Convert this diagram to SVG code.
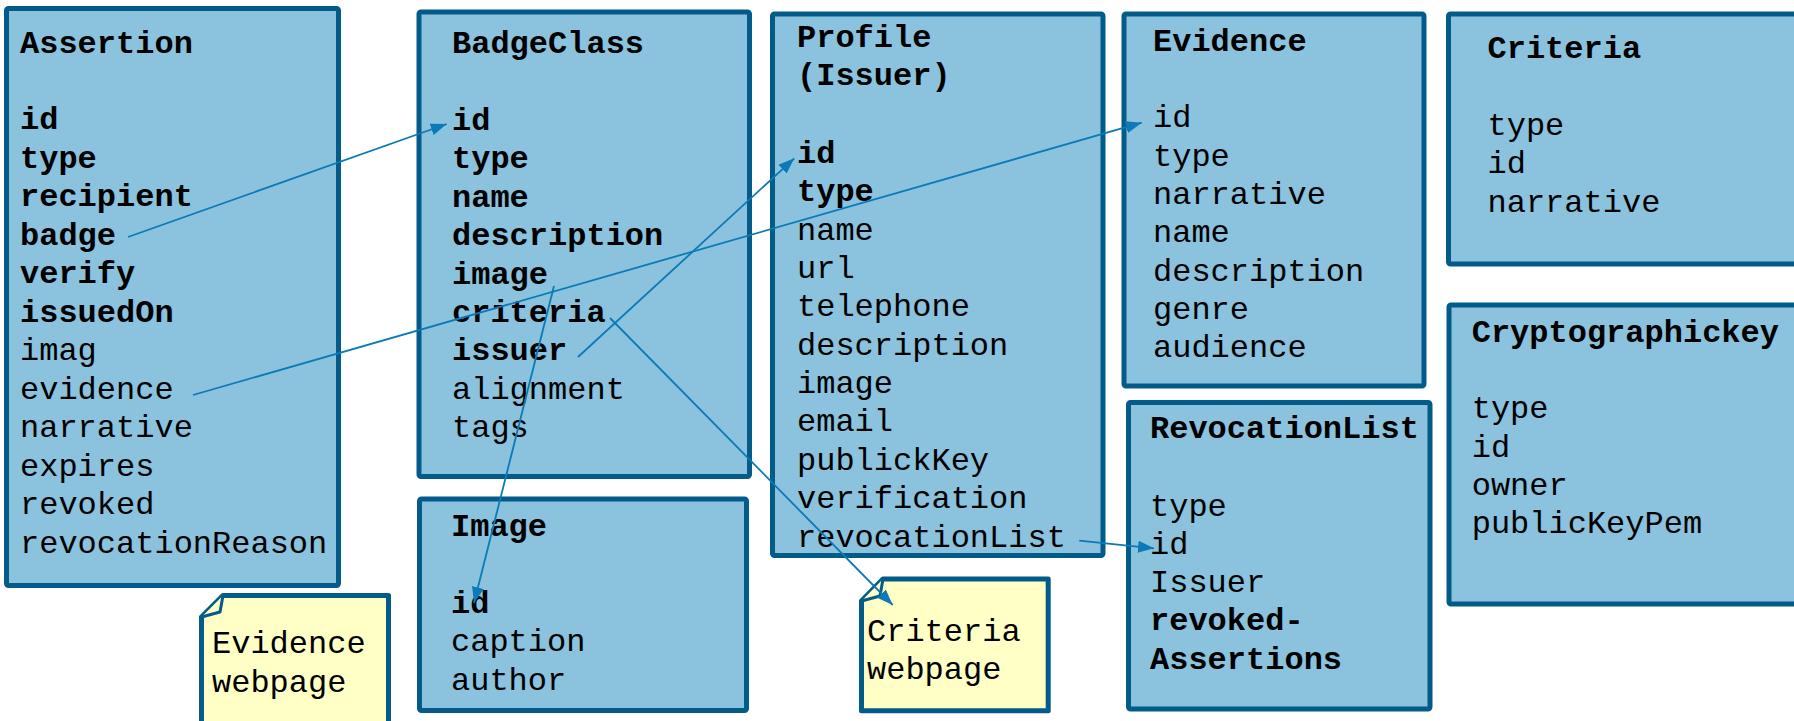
<svg xmlns="http://www.w3.org/2000/svg" width="1794" height="721" viewBox="0 0 1794 721">
<defs>
<style>
.box{fill:#8BC2DD;stroke:#035B89;stroke-width:5}
.note{fill:#FFFFC6;stroke:#035B89;stroke-width:5;stroke-linejoin:round}
.fold{fill:#FFFFC6;stroke:#035B89;stroke-width:3;stroke-linejoin:round}
text{font-family:"Liberation Mono","Courier New",monospace;font-size:32px;fill:#000}
.b{font-weight:bold}
.conn{stroke:#0B7AB7;stroke-width:1.8;fill:none}
</style>
<marker id="arr" markerUnits="userSpaceOnUse" markerWidth="16" markerHeight="12" refX="16" refY="6" orient="auto">
<path d="M0,0 L16,6 L0,12 Z" fill="#0B7AB7"/>
</marker>
</defs>
<rect width="1794" height="721" fill="#FFFFFF"/>

<g id="assertion">
<rect class="box" x="6.5" y="8.5" width="332" height="577" rx="2"/>
<text x="20" y="53" class="b">Assertion</text>
<text x="20" y="129" class="b">id</text>
<text x="20" y="167.5" class="b">type</text>
<text x="20" y="206" class="b">recipient</text>
<text x="20" y="244.5" class="b">badge</text>
<text x="20" y="283" class="b">verify</text>
<text x="20" y="321.5" class="b">issuedOn</text>
<text x="20" y="360">imag</text>
<text x="20" y="398.5">evidence</text>
<text x="20" y="437">narrative</text>
<text x="20" y="475.5">expires</text>
<text x="20" y="514">revoked</text>
<text x="20" y="552.5">revocationReason</text>
</g>

<g id="badgeclass">
<rect class="box" x="419" y="12" width="330.5" height="464.5" rx="2"/>
<text x="452" y="53.3" class="b">BadgeClass</text>
<text x="452" y="130" class="b">id</text>
<text x="452" y="168.4" class="b">type</text>
<text x="452" y="206.8" class="b">name</text>
<text x="452" y="245.2" class="b">description</text>
<text x="452" y="283.6" class="b">image</text>
<text x="452" y="322" class="b">criteria</text>
<text x="452" y="360.4" class="b">issuer</text>
<text x="452" y="398.8">alignment</text>
<text x="452" y="437.2">tags</text>
</g>

<g id="image">
<rect class="box" x="419.5" y="499" width="327" height="211.5" rx="2"/>
<text x="451" y="536" class="b">Image</text>
<text x="451" y="612.7" class="b">id</text>
<text x="451" y="651">caption</text>
<text x="451" y="689.5">author</text>
</g>

<g id="profile">
<rect class="box" x="772.5" y="14" width="330.5" height="541.5" rx="2"/>
<text x="797" y="46.7" class="b">Profile</text>
<text x="797" y="85.1" class="b">(Issuer)</text>
<text x="797" y="162.7" class="b">id</text>
<text x="797" y="201.1" class="b">type</text>
<text x="797" y="239.5">name</text>
<text x="797" y="277.9">url</text>
<text x="797" y="316.2">telephone</text>
<text x="797" y="354.6">description</text>
<text x="797" y="393">image</text>
<text x="797" y="431.4">email</text>
<text x="797" y="469.8">publickKey</text>
<text x="797" y="508.2">verification</text>
<text x="797" y="546.5">revocationList</text>
</g>

<g id="evidence">
<rect class="box" x="1124" y="14" width="300" height="372" rx="2"/>
<text x="1153" y="50.7" class="b">Evidence</text>
<text x="1153" y="127.3">id</text>
<text x="1153" y="165.6">type</text>
<text x="1153" y="204">narrative</text>
<text x="1153" y="242.3">name</text>
<text x="1153" y="280.6">description</text>
<text x="1153" y="319">genre</text>
<text x="1153" y="357.3">audience</text>
</g>

<g id="criteria">
<rect class="box" x="1448.5" y="14" width="352" height="250" rx="2"/>
<text x="1487.5" y="58.3" class="b">Criteria</text>
<text x="1487.5" y="135">type</text>
<text x="1487.5" y="173.3">id</text>
<text x="1487.5" y="211.7">narrative</text>
</g>

<g id="cryptographickey">
<rect class="box" x="1449" y="305" width="352" height="299" rx="2"/>
<text x="1471.7" y="341.7" class="b">Cryptographickey</text>
<text x="1471.7" y="418.3">type</text>
<text x="1471.7" y="456.7">id</text>
<text x="1471.7" y="495">owner</text>
<text x="1471.7" y="533.3">publicKeyPem</text>
</g>

<g id="revocationlist">
<rect class="box" x="1128.5" y="402.5" width="301.5" height="306.5" rx="2"/>
<text x="1150" y="438.3" class="b">RevocationList</text>
<text x="1150" y="515.5">type</text>
<text x="1150" y="553.8">id</text>
<text x="1150" y="592">Issuer</text>
<text x="1150" y="630.4" class="b">revoked-</text>
<text x="1150" y="668.8" class="b">Assertions</text>
</g>

<g id="evidence-webpage">
<path class="note" d="M201.5,617 L223,595.5 L388.5,595.5 L388.5,730 L201.5,730 Z"/>
<path class="fold" d="M201.5,617 L220,612 L223,595.5"/>
<text x="212" y="653">Evidence</text>
<text x="212" y="692">webpage</text>
</g>

<g id="criteria-webpage">
<path class="note" d="M861.5,601 L883,579 L1048.2,579 L1048.2,710.8 L861.5,710.8 Z"/>
<path class="fold" d="M861.5,601 L880,596 L883,579"/>
<text x="867" y="640.7">Criteria</text>
<text x="867" y="679.3">webpage</text>
</g>

<g id="connectors">
<line class="conn" x1="128" y1="237" x2="446.7" y2="124" marker-end="url(#arr)"/>
<line class="conn" x1="193" y1="395" x2="1141.7" y2="122.7" marker-end="url(#arr)"/>
<line class="conn" x1="554" y1="286" x2="474" y2="603" marker-end="url(#arr)"/>
<line class="conn" x1="578" y1="357" x2="794.3" y2="158.3" marker-end="url(#arr)"/>
<line class="conn" x1="610" y1="318" x2="892.7" y2="605" marker-end="url(#arr)"/>
<line class="conn" x1="1079.3" y1="540.7" x2="1154" y2="548.3" marker-end="url(#arr)"/>
</g>
</svg>
